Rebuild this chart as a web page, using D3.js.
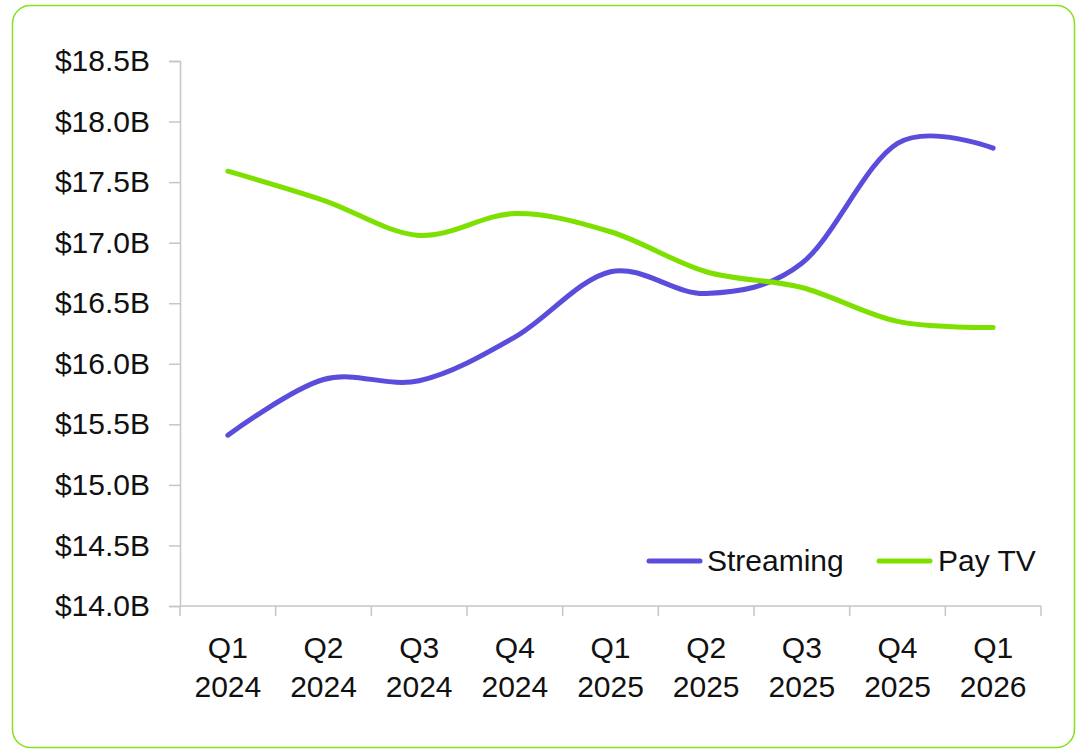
<!DOCTYPE html>
<html>
<head>
<meta charset="utf-8">
<script src="https://cdn.jsdelivr.net/npm/d3@7"></script>
<style>
  html, body { margin: 0; padding: 0; background: #ffffff; }
  svg { display: block; }
  text { font-family: "Liberation Sans", Arial, sans-serif; fill: #111; }
</style>
</head>
<body>
<svg id="chart" width="1077" height="749"></svg>
<script>
// Quarterly revenue, billions of dollars
const quarters = ["Q1|2024", "Q2|2024", "Q3|2024", "Q4|2024", "Q1|2025", "Q2|2025", "Q3|2025", "Q4|2025", "Q1|2026"];
const streaming = [15.41, 15.87, 15.86, 16.22, 16.76, 16.58, 16.83, 17.82, 17.78];
const payTV = [17.59, 17.35, 17.06, 17.24, 17.09, 16.76, 16.63, 16.35, 16.30];
const yTicks = [14.0, 14.5, 15.0, 15.5, 16.0, 16.5, 17.0, 17.5, 18.0, 18.5];
const seriesNames = ["Streaming", "Pay TV"];
const seriesColors = ["#5b4ddb", "#7ee000"];

const svg = d3.select("#chart");
const fontSize = 30;

// Card outline
svg.append("rect")
  .attr("x", 12.5).attr("y", 5.5)
  .attr("width", 1062).attr("height", 742)
  .attr("rx", 18).attr("ry", 18)
  .attr("fill", "#fff")
  .attr("stroke", "#86e01e").attr("stroke-width", 1.5);

const plot = { left: 180, right: 1041, top: 61, bottom: 606 };

const x = d3.scaleBand().domain(quarters).range([plot.left, plot.right]);
const y = d3.scaleLinear().domain([14.0, 18.5]).range([plot.bottom, plot.top]);

const axisColor = "#c6c6c6";

// Y axis
const yAxis = svg.append("g")
  .attr("transform", `translate(${plot.left},0)`)
  .call(d3.axisLeft(y).tickValues(yTicks).tickSize(11).tickPadding(19)
    .tickFormat(d => "$" + d3.format(".1f")(d) + "B"));
yAxis.select(".domain").attr("stroke", axisColor).attr("stroke-width", 1.5);
yAxis.selectAll(".tick line").attr("stroke", axisColor).attr("stroke-width", 1.5);
yAxis.selectAll(".tick text")
  .attr("font-size", fontSize)
  .attr("font-family", "'Liberation Sans', Arial, sans-serif")
  .attr("fill", "#111");

// X axis: ticks sit on band boundaries
const xAxisG = svg.append("g").attr("transform", `translate(0,${plot.bottom})`);
xAxisG.append("line")
  .attr("x1", plot.left).attr("x2", plot.right)
  .attr("stroke", axisColor).attr("stroke-width", 1.5);
const boundaries = quarters.map(q => x(q)).concat([x(quarters[quarters.length - 1]) + x.bandwidth()]);
xAxisG.selectAll("line.tk").data(boundaries).join("line")
  .attr("class", "tk")
  .attr("x1", d => d).attr("x2", d => d)
  .attr("y1", 0).attr("y2", 10)
  .attr("stroke", axisColor).attr("stroke-width", 1.5);
const xLabels = xAxisG.selectAll("text.lbl").data(quarters).join("text")
  .attr("class", "lbl")
  .attr("text-anchor", "middle")
  .attr("font-size", fontSize)
  .attr("x", d => x(d) + x.bandwidth() / 2);
xLabels.append("tspan").attr("x", d => x(d) + x.bandwidth() / 2).attr("y", 52).text(d => d.split("|")[0]);
xLabels.append("tspan").attr("x", d => x(d) + x.bandwidth() / 2).attr("y", 91).text(d => d.split("|")[1]);

// Series lines
const line = d3.line()
  .x((d, i) => x(quarters[i]) + x.bandwidth() / 2)
  .y(d => y(d))
  .curve(d3.curveCatmullRom.alpha(0));

[streaming, payTV].forEach((vals, k) => {
  svg.append("path")
    .datum(vals)
    .attr("d", line)
    .attr("fill", "none")
    .attr("stroke", seriesColors[k])
    .attr("stroke-width", 5)
    .attr("stroke-linecap", "round")
    .attr("stroke-linejoin", "round");
});

// Legend
const legendItems = [{ x: 649, tx: 707 }, { x: 879, tx: 938 }];
const legend = svg.append("g").attr("transform", "translate(0,561)");
seriesNames.forEach((name, k) => {
  legend.append("line")
    .attr("x1", legendItems[k].x).attr("x2", legendItems[k].x + 51)
    .attr("stroke", seriesColors[k]).attr("stroke-width", 5)
    .attr("stroke-linecap", "round");
  legend.append("text")
    .attr("x", legendItems[k].tx).attr("y", 10)
    .attr("font-size", fontSize)
    .text(name);
});
</script>
</body>
</html>
